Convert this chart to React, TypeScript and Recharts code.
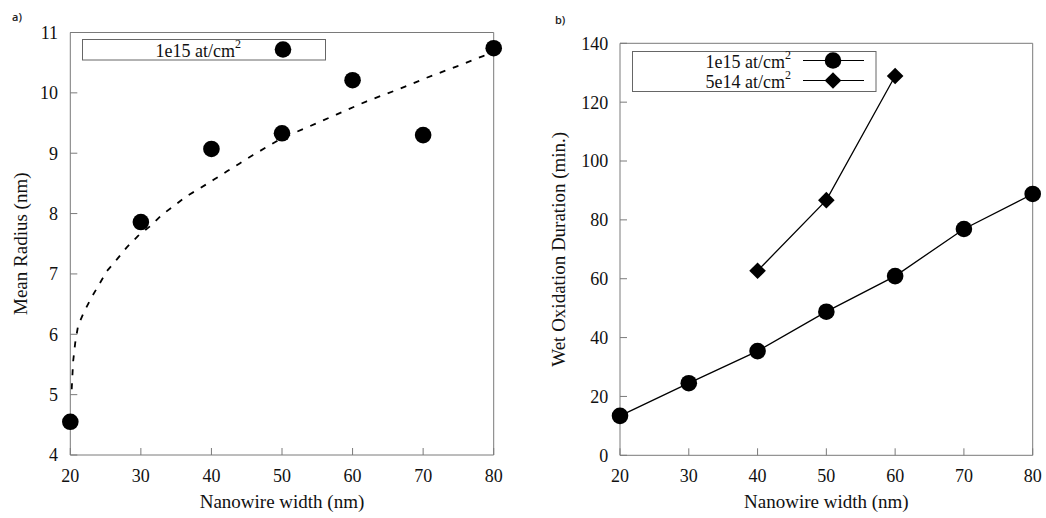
import React from 'react';
import { ComposedChart, Scatter, Line, XAxis, YAxis, Legend } from 'recharts';

// nanowire widths (nm) used by both panels
const widths = [20, 30, 40, 50, 60, 70, 80];
const xTicks = [20, 30, 40, 50, 60, 70, 80];

// panel a) mean radius vs width
const meanRadius = [4.55, 7.86, 9.07, 9.33, 10.21, 9.3, 10.74];
const radiusTicks = [4, 5, 6, 7, 8, 9, 10, 11];

// dashed fit curve
const fitWidths = [20.2, 20.4, 20.7, 21.1, 21.9, 23, 24, 25.2, 26.6, 28, 29.6, 31.3, 33, 34.6, 36.5, 38.4, 40.3, 42.2, 44, 45.9, 47.8, 50, 54, 57.7, 62, 66.3, 70.5, 74.8, 78.5, 80];
const fitRadius = [5.09, 5.55, 5.86, 6.14, 6.36, 6.61, 6.81, 7.05, 7.24, 7.44, 7.63, 7.79, 7.98, 8.12, 8.29, 8.42, 8.56, 8.7, 8.83, 8.97, 9.1, 9.25, 9.45, 9.64, 9.86, 10.05, 10.25, 10.44, 10.61, 10.68];

// panel b) wet oxidation duration vs width
const duration1e15 = [13.4, 24.5, 35.4, 48.8, 60.9, 76.9, 88.8];
const widths5e14 = [40, 50, 60];
const duration5e14 = [62.7, 86.7, 128.9];
const durationTicks = [0, 20, 40, 60, 80, 100, 120, 140];

const serif = 'Liberation Serif';
const axisColor = '#7a7a7a';
const ink = '#111';

const radiusData = widths.map((x, i) => ({ x, y: meanRadius[i] }));
const fitData = fitWidths.map((x, i) => ({ x, y: fitRadius[i] }));
const d1e15 = widths.map((x, i) => ({ x, y: duration1e15[i] }));
const d5e14 = widths5e14.map((x, i) => ({ x, y: duration5e14[i] }));

const Dot = (p: any) => <circle key={p.key ?? `${p.cx}-${p.cy}`} cx={p.cx} cy={p.cy} r={8.3} fill="#000" />;
const Diamond = (p: any) => {
  const s = 8.3;
  return (
    <path
      key={p.key ?? `${p.cx}-${p.cy}`}
      d={`M${p.cx},${p.cy - s}L${p.cx + s},${p.cy}L${p.cx},${p.cy + s}L${p.cx - s},${p.cy}Z`}
      fill="#000"
    />
  );
};

const XTitle = ({ viewBox, caption }: any) => (
  <text x={viewBox.x + viewBox.width / 2} y={viewBox.y + 53} textAnchor="middle" fontSize={19} style={{ fontFamily: serif }} fill={ink}>
    {caption}
  </text>
);

const YTitle = ({ viewBox, caption, dx }: any) => {
  const x = viewBox.x + dx;
  const y = viewBox.y + viewBox.height / 2;
  return (
    <text x={x} y={y} transform={`rotate(-90 ${x} ${y})`} textAnchor="middle" fontSize={19} style={{ fontFamily: serif }} fill={ink}>
      {caption}
    </text>
  );
};

const Entry = ({ y, label, marker, withLine }: any) => (
  <g>
    <text x={159} y={y} textAnchor="end" fontSize={18} style={{ fontFamily: serif }} fill={ink}>
      {label}
      <tspan fontSize={12} dy={-9}>2</tspan>
    </text>
    {withLine && <line x1={171} x2={232} y1={y - 7} y2={y - 7} stroke="#000" strokeWidth={1.2} />}
    {marker === 'circle' ? <Dot cx={201} cy={y - 7} /> : <Diamond cx={201} cy={y - 7} />}
  </g>
);

const LegendA = () => (
  <svg width={245} height={22} style={{ overflow: 'visible', display: 'block' }}>
    <rect x={0.5} y={0.5} width={243} height={20.5} fill="#fff" stroke="#666" />
    <Entry y={17.5} label="1e15 at/cm" marker="circle" />
  </svg>
);

const LegendB = () => (
  <svg width={245} height={42} style={{ overflow: 'visible', display: 'block' }}>
    <rect x={0.5} y={0.5} width={243.5} height={40} fill="#fff" stroke="#666" />
    <Entry y={16.5} label="1e15 at/cm" marker="circle" withLine />
    <Entry y={36.5} label="5e14 at/cm" marker="diamond" withLine />
  </svg>
);

const tickStyle = { fill: ink, fontSize: 18, style: { fontFamily: serif } };

export default function App() {
  return (
    <div style={{ position: 'fixed', left: 0, top: 0, width: 1046, height: 518, background: '#fff', fontFamily: serif }}>
      <div style={{ position: 'absolute', left: 12, top: 9, fontFamily: '"Open Sans", sans-serif', fontSize: 11, fontWeight: 600, color: '#222' }}>a)</div>
      <div style={{ position: 'absolute', left: 555, top: 12, fontFamily: '"Open Sans", sans-serif', fontSize: 11, fontWeight: 600, color: '#222' }}>b)</div>

      <div style={{ position: 'absolute', left: 0, top: 0 }}>
        <ComposedChart width={520} height={518} margin={{ top: 31.5, right: 25.3, left: 30.3, bottom: 3 }}>
          <XAxis
            type="number"
            dataKey="x"
            domain={[20, 80]}
            ticks={xTicks}
            interval={0}
            height={60}
            stroke={axisColor}
            tickSize={-7}
            tickMargin={21.4}
            tick={tickStyle}
            label={<XTitle caption="Nanowire width (nm)" />}
          />
          <XAxis xAxisId="top" orientation="top" type="number" domain={[20, 80]} ticks={xTicks} interval={0} allowDataOverflow height={1} stroke={axisColor} tickSize={-7} tick={false} />
          <YAxis
            type="number"
            dataKey="y"
            domain={[4, 11]}
            ticks={radiusTicks}
            interval={0}
            width={40}
            stroke={axisColor}
            tickSize={-7}
            tickMargin={19.3}
            tick={tickStyle}
            label={<YTitle caption="Mean Radius (nm)" dx={-3.3} />}
          />
          <YAxis yAxisId="right" orientation="right" type="number" domain={[4, 11]} ticks={radiusTicks} interval={0} allowDataOverflow width={1} stroke={axisColor} tickSize={-7} tick={false} />
          <Line data={fitData} dataKey="y" type="linear" stroke="#000" strokeWidth={1.8} strokeDasharray="6 8" dot={false} isAnimationActive={false} />
          <Scatter data={radiusData} dataKey="y" shape={Dot} isAnimationActive={false} />
          <Legend layout="vertical" align="center" verticalAlign="middle" wrapperStyle={{ left: 82, top: 39, width: 245, height: 22 }} content={() => <LegendA />} />
        </ComposedChart>
      </div>

      <div style={{ position: 'absolute', left: 530, top: 0 }}>
        <ComposedChart width={516} height={518} margin={{ top: 42.3, right: 12.3, left: 40, bottom: 2.7 }}>
          <XAxis
            type="number"
            dataKey="x"
            domain={[20, 80]}
            ticks={xTicks}
            interval={0}
            height={60}
            stroke={axisColor}
            tickSize={-7}
            tickMargin={21.4}
            tick={tickStyle}
            label={<XTitle caption="Nanowire width (nm)" />}
          />
          <XAxis xAxisId="top" orientation="top" type="number" domain={[20, 80]} ticks={xTicks} interval={0} allowDataOverflow height={1} stroke={axisColor} tickSize={-7} tick={false} />
          <YAxis
            type="number"
            dataKey="y"
            domain={[0, 140]}
            ticks={durationTicks}
            interval={0}
            width={50}
            stroke={axisColor}
            tickSize={-7}
            tickMargin={18.7}
            tick={tickStyle}
            label={<YTitle caption="Wet Oxidation Duration (min.)" dx={-5} />}
          />
          <YAxis yAxisId="right" orientation="right" type="number" domain={[0, 140]} ticks={durationTicks} interval={0} allowDataOverflow width={1} stroke={axisColor} tickSize={-7} tick={false} />
          <Line data={d1e15} dataKey="y" type="linear" stroke="#000" strokeWidth={1.3} dot={Dot} isAnimationActive={false} />
          <Line data={d5e14} dataKey="y" type="linear" stroke="#000" strokeWidth={1.3} dot={Diamond} isAnimationActive={false} />
          <Legend layout="vertical" align="center" verticalAlign="middle" wrapperStyle={{ left: 101.7, top: 50.7, width: 245, height: 42 }} content={() => <LegendB />} />
        </ComposedChart>
      </div>
    </div>
  );
}
